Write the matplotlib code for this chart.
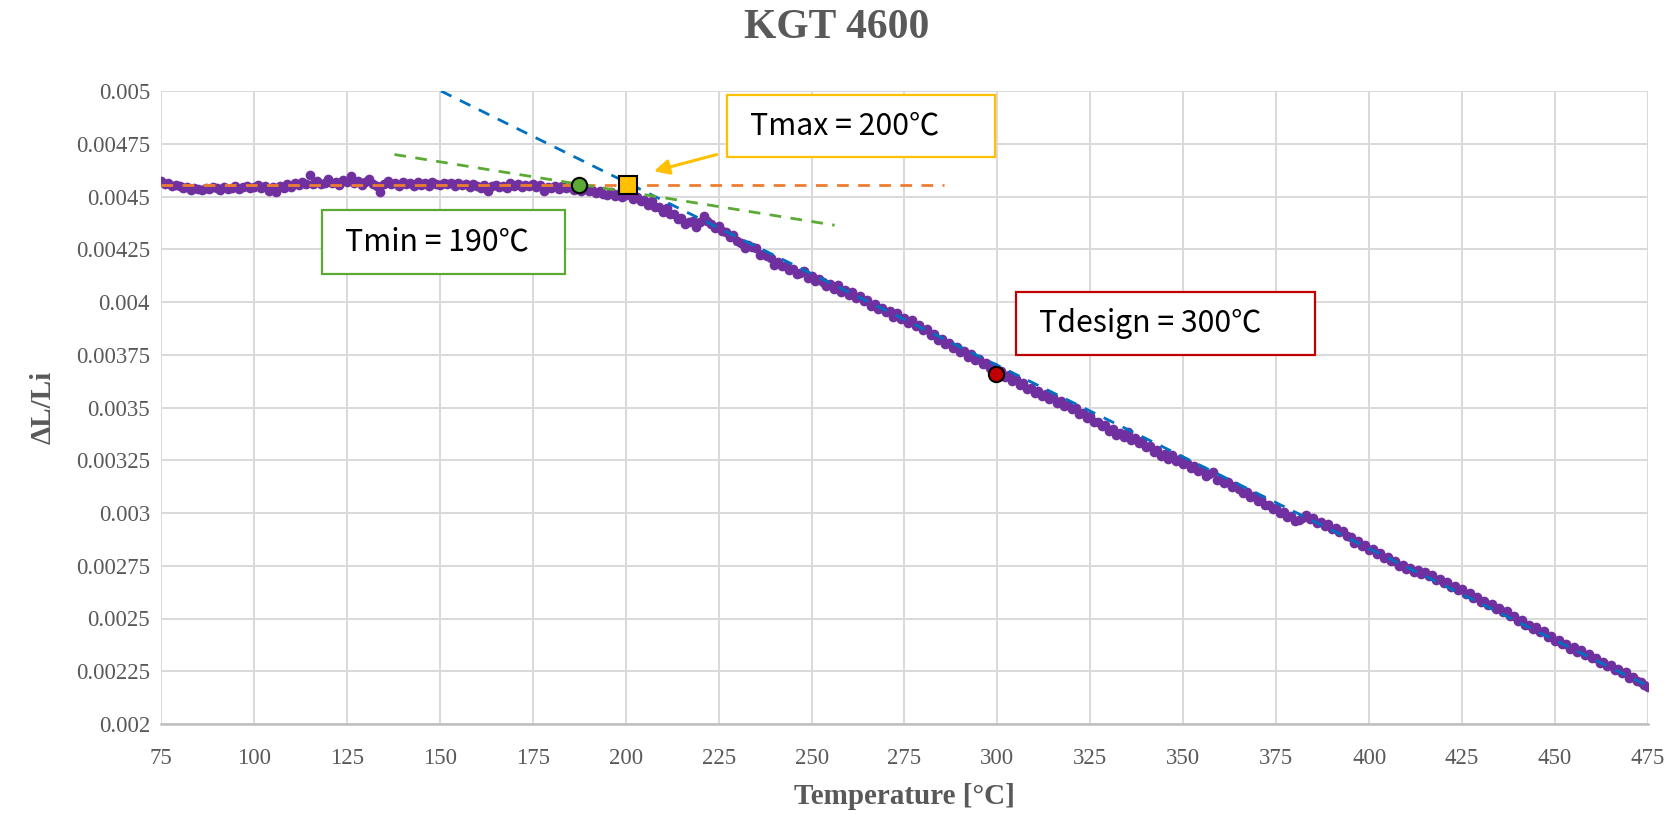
import matplotlib as mpl
mpl.use('Agg')
import matplotlib.pyplot as plt
from matplotlib.patches import Rectangle
from matplotlib.ticker import FormatStrFormatter, MultipleLocator

# measured dilatation, one reading per degree
temp_c = [
    75, 76, 77, 78, 79, 80, 81, 82, 83, 84, 85, 86, 87, 88, 89, 90, 91, 92, 93, 94,
    95, 96, 97, 98, 99, 100, 101, 102, 103, 104, 105, 106, 107, 108, 109, 110, 111, 112, 113, 114,
    115, 116, 117, 118, 119, 120, 121, 122, 123, 124, 125, 126, 127, 128, 129, 130, 131, 132, 133, 134,
    135, 136, 137, 138, 139, 140, 141, 142, 143, 144, 145, 146, 147, 148, 149, 150, 151, 152, 153, 154,
    155, 156, 157, 158, 159, 160, 161, 162, 163, 164, 165, 166, 167, 168, 169, 170, 171, 172, 173, 174,
    175, 176, 177, 178, 179, 180, 181, 182, 183, 184, 185, 186, 187, 188, 189, 190, 191, 192, 193, 194,
    195, 196, 197, 198, 199, 200, 201, 202, 203, 204, 205, 206, 207, 208, 209, 210, 211, 212, 213, 214,
    215, 216, 217, 218, 219, 220, 221, 222, 223, 224, 225, 226, 227, 228, 229, 230, 231, 232, 233, 234,
    235, 236, 237, 238, 239, 240, 241, 242, 243, 244, 245, 246, 247, 248, 249, 250, 251, 252, 253, 254,
    255, 256, 257, 258, 259, 260, 261, 262, 263, 264, 265, 266, 267, 268, 269, 270, 271, 272, 273, 274,
    275, 276, 277, 278, 279, 280, 281, 282, 283, 284, 285, 286, 287, 288, 289, 290, 291, 292, 293, 294,
    295, 296, 297, 298, 299, 300, 301, 302, 303, 304, 305, 306, 307, 308, 309, 310, 311, 312, 313, 314,
    315, 316, 317, 318, 319, 320, 321, 322, 323, 324, 325, 326, 327, 328, 329, 330, 331, 332, 333, 334,
    335, 336, 337, 338, 339, 340, 341, 342, 343, 344, 345, 346, 347, 348, 349, 350, 351, 352, 353, 354,
    355, 356, 357, 358, 359, 360, 361, 362, 363, 364, 365, 366, 367, 368, 369, 370, 371, 372, 373, 374,
    375, 376, 377, 378, 379, 380, 381, 382, 383, 384, 385, 386, 387, 388, 389, 390, 391, 392, 393, 394,
    395, 396, 397, 398, 399, 400, 401, 402, 403, 404, 405, 406, 407, 408, 409, 410, 411, 412, 413, 414,
    415, 416, 417, 418, 419, 420, 421, 422, 423, 424, 425, 426, 427, 428, 429, 430, 431, 432, 433, 434,
    435, 436, 437, 438, 439, 440, 441, 442, 443, 444, 445, 446, 447, 448, 449, 450, 451, 452, 453, 454,
    455, 456, 457, 458, 459, 460, 461, 462, 463, 464, 465, 466, 467, 468, 469, 470, 471, 472, 473, 474,
    475,
]
dl_li = [
    0.004572, 0.004560, 0.004566, 0.004548, 0.004556, 0.004551, 0.004538, 0.004544, 0.004531, 0.004540,
    0.004536, 0.004529, 0.004542, 0.004534, 0.004545, 0.004538, 0.004530, 0.004547, 0.004536, 0.004541,
    0.004549, 0.004535, 0.004543, 0.004551, 0.004539, 0.004546, 0.004554, 0.004541, 0.004549, 0.004526,
    0.004543, 0.004521, 0.004550, 0.004538, 0.004557, 0.004545, 0.004562, 0.004553, 0.004568, 0.004559,
    0.004603, 0.004561, 0.004572, 0.004557, 0.004566, 0.004584, 0.004563, 0.004571, 0.004555, 0.004577,
    0.004568, 0.004598, 0.004562, 0.004574, 0.004556, 0.004569, 0.004583, 0.004560, 0.004552, 0.004519,
    0.004561, 0.004573, 0.004557, 0.004566, 0.004549, 0.004571, 0.004558, 0.004564, 0.004552, 0.004567,
    0.004556, 0.004563, 0.004548, 0.004571, 0.004559, 0.004553, 0.004566, 0.004557, 0.004562, 0.004550,
    0.004564, 0.004554, 0.004560, 0.004545, 0.004558, 0.004549, 0.004541, 0.004553, 0.004526, 0.004548,
    0.004556, 0.004543, 0.004551, 0.004539, 0.004562, 0.004548, 0.004557, 0.004543, 0.004555, 0.004549,
    0.004558, 0.004546, 0.004553, 0.004528, 0.004547, 0.004539, 0.004552, 0.004536, 0.004548, 0.004541,
    0.004545, 0.004533, 0.004541, 0.004528, 0.004537, 0.004524, 0.004532, 0.004518, 0.004527, 0.004513,
    0.004509, 0.004521, 0.004503, 0.004514, 0.004496, 0.004508, 0.004522, 0.004487, 0.004499, 0.004481,
    0.004482, 0.004461, 0.004479, 0.004452, 0.004448, 0.004425, 0.004446, 0.004419, 0.004417, 0.004392,
    0.004398, 0.004371, 0.004379, 0.004386, 0.004355, 0.004378, 0.004408, 0.004384, 0.004372, 0.004349,
    0.004358, 0.004336, 0.004331, 0.004309, 0.004318, 0.004289, 0.004281, 0.004256, 0.004268, 0.004262,
    0.004258, 0.004224, 0.004229, 0.004217, 0.004208, 0.004176, 0.004189, 0.004171, 0.004169, 0.004151,
    0.004156, 0.004131, 0.004138, 0.004146, 0.004112, 0.004121, 0.004098, 0.004107, 0.004094, 0.004078,
    0.004085, 0.004063, 0.004079, 0.004049, 0.004056, 0.004033, 0.004049, 0.004019, 0.004027, 0.004003,
    0.004008, 0.003983, 0.003990, 0.003968, 0.003972, 0.003951, 0.003956, 0.003931, 0.003948, 0.003919,
    0.003925, 0.003899, 0.003916, 0.003887, 0.003890, 0.003865, 0.003874, 0.003842, 0.003850, 0.003822,
    0.003825, 0.003802, 0.003806, 0.003781, 0.003789, 0.003762, 0.003768, 0.003741, 0.003752, 0.003723,
    0.003729, 0.003708, 0.003713, 0.003687, 0.003690, 0.003668, 0.003671, 0.003644, 0.003655, 0.003627,
    0.003636, 0.003606, 0.003617, 0.003589, 0.003593, 0.003571, 0.003580, 0.003553, 0.003562, 0.003540,
    0.003551, 0.003521, 0.003530, 0.003507, 0.003514, 0.003491, 0.003497, 0.003468, 0.003475, 0.003451,
    0.003461, 0.003430, 0.003433, 0.003411, 0.003417, 0.003390, 0.003397, 0.003372, 0.003381, 0.003361,
    0.003386, 0.003346, 0.003355, 0.003333, 0.003340, 0.003312, 0.003318, 0.003291, 0.003297, 0.003270,
    0.003280, 0.003256, 0.003274, 0.003246, 0.003255, 0.003232, 0.003239, 0.003213, 0.003221, 0.003198,
    0.003205, 0.003177, 0.003184, 0.003192, 0.003155, 0.003163, 0.003140, 0.003146, 0.003121, 0.003127,
    0.003114, 0.003096, 0.003101, 0.003075, 0.003080, 0.003055, 0.003064, 0.003038, 0.003040, 0.003018,
    0.003024, 0.003002, 0.003004, 0.002981, 0.002986, 0.002962, 0.002966, 0.002978, 0.002990, 0.002971,
    0.002975, 0.002951, 0.002958, 0.002940, 0.002948, 0.002926, 0.002931, 0.002910, 0.002913, 0.002891,
    0.002884, 0.002860, 0.002866, 0.002844, 0.002847, 0.002825, 0.002831, 0.002806, 0.002811, 0.002788,
    0.002793, 0.002773, 0.002771, 0.002749, 0.002754, 0.002733, 0.002741, 0.002720, 0.002728, 0.002711,
    0.002719, 0.002700, 0.002706, 0.002684, 0.002689, 0.002668, 0.002673, 0.002651, 0.002656, 0.002634,
    0.002638, 0.002616, 0.002622, 0.002598, 0.002601, 0.002580, 0.002584, 0.002563, 0.002569, 0.002547,
    0.002552, 0.002533, 0.002537, 0.002510, 0.002514, 0.002489, 0.002493, 0.002469, 0.002471, 0.002448,
    0.002458, 0.002436, 0.002443, 0.002412, 0.002416, 0.002394, 0.002397, 0.002377, 0.002379, 0.002356,
    0.002363, 0.002343, 0.002349, 0.002328, 0.002334, 0.002312, 0.002315, 0.002290, 0.002294, 0.002273,
    0.002278, 0.002258, 0.002260, 0.002240, 0.002245, 0.002220, 0.002222, 0.002203, 0.002201, 0.002183,
    0.002176,
]

# fitted helper lines (end points)
flat_x, flat_y = [75, 285.5], [0.004553, 0.004553]
steep_x, steep_y = [150.3, 475], [0.005, 0.00218]
tangent_x, tangent_y = [137.8, 256.2], [0.004699, 0.004364]

# marked points
tmin_pt = (187.4, 0.004553)
tmax_pt = (200.5, 0.004554)
tdesign_pt = (299.6, 0.003659)

GRAY = '#595959'
serif = ['Liberation Serif', 'DejaVu Serif']
label_font = ['Noto Sans CJK KR', 'DejaVu Sans']

fig = plt.figure(figsize=(16.72, 8.14), dpi=100)
ax = fig.add_axes([161/1672, 90/814, 1487/1672, 633/814])

ax.plot(temp_c, dl_li, 'o', color='#7030A0', ms=7, mew=0, zorder=3)
ax.plot(flat_x, flat_y, color='#ED7D31', lw=2, dashes=(4.2, 3.4), zorder=4)
ax.plot(steep_x, steep_y, color='#0070C0', lw=2, dashes=(4.2, 3.4), zorder=4)
ax.plot(tangent_x, tangent_y, color='#5BAA33', lw=2, dashes=(4.2, 3.4), zorder=4)

ax.plot(*tmin_pt, 'o', ms=11, mfc='#5BAA33', mec='black', mew=1.5, zorder=6)
ax.plot(*tmax_pt, 's', ms=13, mfc='#FFC000', mec='black', mew=1.5, zorder=6)
ax.plot(*tdesign_pt, 'o', ms=11, mfc='#C00000', mec='black', mew=1.5, zorder=6)

# label boxes: (x0, x1, y0, y1, edge colour, text)
boxes = [
    (227.2, 299.3, 0.004689, 0.004982, '#FFC000', 'Tmax = 200℃'),
    (118.3, 183.6, 0.004134, 0.004437, '#5BAA33', 'Tmin = 190℃'),
    (304.9, 385.3, 0.003751, 0.004046, '#C00000', 'Tdesign = 300℃'),
]
for x0, x1, y0, y1, ec, txt in boxes:
    ax.add_patch(Rectangle((x0, y0), x1 - x0, y1 - y0, fill=True, fc='white',
                           ec=ec, lw=1.6, zorder=7, clip_on=False))
    ax.text(x0 + 6.2, (y0 + y1) / 2, txt, ha='left', va='center', fontsize=21.8,
            family=label_font, color='black', zorder=8)

ax.annotate('', xy=(207.6, 0.00462), xytext=(224.5, 0.004699),
            arrowprops=dict(arrowstyle='-|>,head_length=0.9,head_width=0.45',
                            color='#FFC000', lw=2.2, shrinkA=0, shrinkB=0), zorder=7)

ax.set_xlim(75, 475)
ax.set_ylim(0.002, 0.005)
ax.xaxis.set_major_locator(MultipleLocator(25))
ax.yaxis.set_major_locator(MultipleLocator(0.00025))
ax.yaxis.set_major_formatter(FormatStrFormatter('%g'))
ax.grid(True, color='#D9D9D9', lw=1.4, zorder=0)
ax.set_axisbelow(True)
for side in ['left', 'right', 'top']:
    ax.spines[side].set_visible(False)
ax.spines['bottom'].set_color('#BFBFBF')
ax.spines['bottom'].set_linewidth(1.8)
ax.tick_params(length=0, labelsize=16.5, labelcolor=GRAY)
ax.tick_params(axis='x', pad=17)
ax.tick_params(axis='y', pad=8)
for lab in ax.get_xticklabels() + ax.get_yticklabels():
    lab.set_family(serif)

ax.set_xlabel('Temperature [°C]', fontsize=21, fontweight='bold', color=GRAY,
              family=serif, labelpad=10)
ax.set_ylabel('ΔL/Li', fontsize=21, fontweight='bold', color=GRAY,
              family=serif, labelpad=14)
fig.text(837/1672, 1 - 28/814, 'KGT 4600', ha='center', va='center', fontsize=30,
         fontweight='bold', color=GRAY, family=serif)

fig.savefig('out.png', dpi=100)
